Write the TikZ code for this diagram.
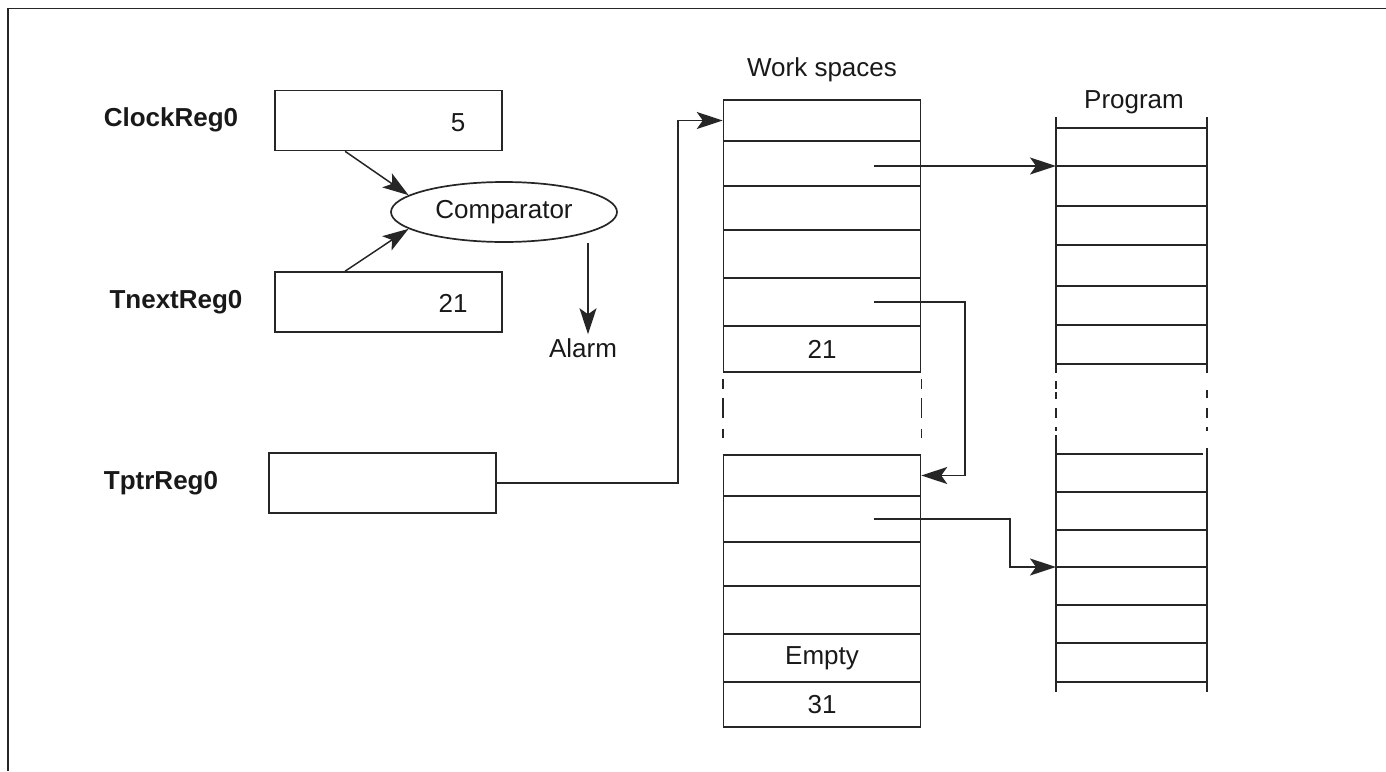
\documentclass[tikz,border=0pt]{standalone}
\usepackage{fontspec}
\setmainfont{Liberation Sans}
\usetikzlibrary{arrows.meta,shapes.geometric}
\begin{document}
\begin{tikzpicture}[x=1pt,y=-1pt,
  every node/.style={font=\fontsize{26}{30}\selectfont, inner sep=0pt, text=black!90},
  reg/.style={draw=black!85, line width=1.7pt, minimum width=227pt, minimum height=60pt},
  lbl/.style={font=\fontsize{26}{30}\selectfont\bfseries},
  cell/.style={draw=black!85, line width=1.5pt, minimum width=197pt},
  ln/.style={line width=1.5pt, draw=black!85},
  arr/.style={ln, -{Stealth[length=26pt,width=17pt,inset=6pt]}},
]
\useasboundingbox (0,0) rectangle (1386,771);
% frame
\draw[ln] (8,771) -- (8,8.5) -- (1386,8.5);

% registers
\node[lbl] (lclk) at (171,120) {ClockReg0};
\node[reg] (clk) at (388.5,120.5) {};
\node (v5) at (458,123) {5};
\node[lbl] (lnxt) at (176,302) {TnextReg0};
\node[reg] (nxt) at (388.5,302) {};
\node (v21) at (453,303) {21};
\node[lbl] (lptr) at (161,483) {TptrReg0};
\node[reg] (tptr) at (382.5,483) {};

% comparator
\node[ellipse, draw=black!85, line width=1.7pt, minimum width=226pt, minimum height=60pt] (comp) at (504,212) {Comparator};
\draw[arr] ([xshift=71pt]clk.south west) -- (comp.170);
\draw[arr] ([xshift=71pt]nxt.north west) -- (comp.190);
\node (alarm) at (583,348) {Alarm};
\draw[arr] ([xshift=84pt]comp.south) -- ([xshift=5pt,yshift=4pt]alarm.north);

% work spaces
\node (hws) at (822,70) {Work spaces};
\node[cell, minimum height=41pt] (wa1) at (822,120.5) {};
\node[cell, minimum height=45pt] (wa2) at (822,163.5) {};
\node[cell, minimum height=44pt] (wa3) at (822,208) {};
\node[cell, minimum height=48pt] (wa4) at (822,254) {};
\node[cell, minimum height=48pt] (wa5) at (822,302) {};
\node[cell, minimum height=46pt] (wa6) at (822,349) {21};

\node[cell, minimum height=41pt] (wb1) at (822,475.5) {};
\node[cell, minimum height=46pt] (wb2) at (822,519) {};
\node[cell, minimum height=44pt] (wb3) at (822,564) {};
\node[cell, minimum height=48pt] (wb4) at (822,610) {};
\node[cell, minimum height=48pt] (wb5) at (822,658) {Empty};
\node[cell, minimum height=45pt] (wb6) at (822,704.5) {31};

\draw[ln, dash pattern=on 10pt off 9pt on 20pt off 11pt on 11pt off 30pt, shorten <=6pt, shorten >=16pt] (wa6.south west) -- (wb1.north west);
\draw[ln, dash pattern=on 10pt off 9pt on 20pt off 11pt on 11pt off 30pt, shorten <=6pt, shorten >=16pt] (wa6.south east) -- (wb1.north east);

% program
\node (hpg) at (1134,102) {Program};
\draw[ln] (1056,117) -- (1056,373);
\draw[ln] (1207,117) -- (1207,373);
\foreach \y in {128,166,206,245,286,325,364} \draw[ln] (1056,\y) -- (1207,\y);
\foreach \a/\b in {381/389,392/399,408/418,427/431} \draw[ln] (1056,\a) -- (1056,\b);
\foreach \a/\b in {390/398,408/418,427/431} \draw[ln] (1207,\a) -- (1207,\b);
\draw[ln] (1056,435) -- (1056,692);
\draw[ln] (1207,448) -- (1207,692);
\draw[ln] (1056,454) -- (1203,454);
\foreach \y in {492,530,567,605,643,682} \draw[ln] (1056,\y) -- (1207,\y);
\coordinate (p2) at (1056,166);
\coordinate (p4) at (1056,567);

% connectors
\coordinate (ca) at (678,0);
\coordinate (cb) at (965,0);
\coordinate (cc) at (1010,0);
\coordinate (s1) at ([xshift=52pt,yshift=-2.5pt]wa2.center);
\coordinate (s2) at ([xshift=52pt]wa5.center);
\coordinate (s3) at ([xshift=52pt]wb2.center);
\draw[arr] (tptr.east) -| (ca |- wa1.west) -- (wa1.west);
\draw[arr] (s1) -- (p2);
\draw[arr] (s2) -| (cb |- wb1.east) -- (wb1.east);
\draw[arr] (s3) -| (cc |- p4) -- (p4);
\end{tikzpicture}
\end{document}
